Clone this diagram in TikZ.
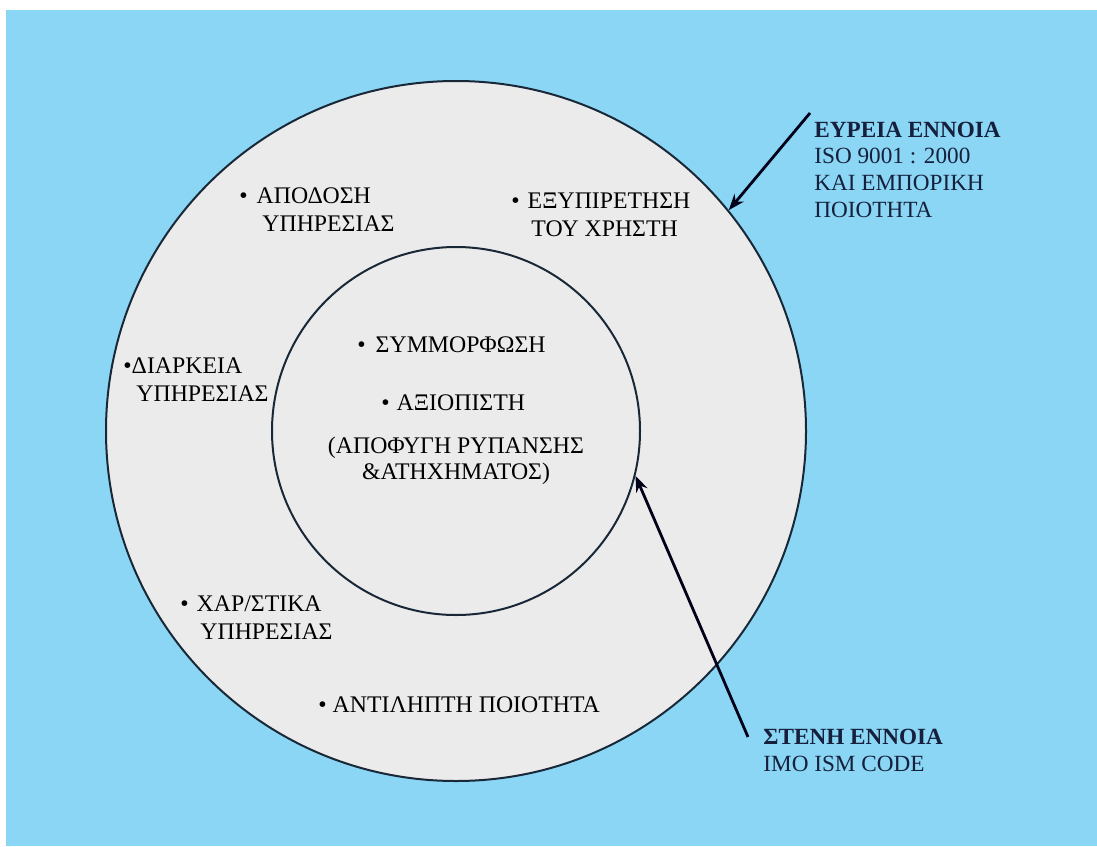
\documentclass[tikz,border=0pt]{standalone}
\usepackage{fontspec}
\setmainfont{Liberation Serif}
\usetikzlibrary{arrows.meta}
\definecolor{skyblue}{RGB}{138,214,244}
\definecolor{discgray}{RGB}{235,235,235}
\definecolor{rimline}{RGB}{25,40,55}
\definecolor{navytext}{RGB}{22,32,60}
\tikzset{
  disc/.style={circle, draw=rimline, line width=1pt, inner sep=0pt},
  lbl/.style={anchor=base west, inner sep=0pt, align=left, font=\fontsize{11.9}{14}\selectfont},
  ctr/.style={anchor=base, inner sep=0pt, align=center, font=\fontsize{11.9}{12.6}\selectfont},
  side/.style={anchor=base west, inner sep=0pt, align=left, text=navytext, font=\fontsize{11.6}{13.3}\selectfont},
  arr/.style={draw=black!90!blue, line width=1.4pt, -{Stealth[length=8pt,width=6pt]}}
}
\begin{document}
\begin{tikzpicture}[x=0.5pt,y=-0.5pt]
\useasboundingbox (0,0) rectangle (1097,846);
\fill[white] (0,0) rectangle (1097,846);
\fill[skyblue] (6,10) rectangle (1097,846);
\node[disc, fill=discgray, minimum size=350pt] (outer) at (456,431) {};
\node[disc, minimum size=184pt] (inner) at (456,431) {};
% outer ring items (anchor = baseline of last line)
\node[lbl] (apodosi) at (239,231) {•\hspace{4.5pt}ΑΠΟΔΟΣΗ\\\hspace{11.5pt}ΥΠΗΡΕΣΙΑΣ};
\node[lbl] (exyp) at (511,236) {•\hspace{4pt}ΕΞΥΠΙΡΕΤΗΣΗ\\\hspace{10pt}ΤΟΥ ΧΡΗΣΤΗ};
\node[lbl] (diark) at (123,401) {•ΔΙΑΡΚΕΙΑ\\\hspace{6.5pt}ΥΠΗΡΕΣΙΑΣ};
\node[lbl] (xar) at (180,639) {•\hspace{4pt}ΧΑΡ/ΣΤΙΚΑ\\\hspace{10pt}ΥΠΗΡΕΣΙΑΣ};
\node[lbl] (antil) at (318,712) {•\hspace{3pt}ΑΝΤΙΛΗΠΤΗ ΠΟΙΟΤΗΤΑ};
% inner items
\node[lbl] (symm) at (357,352) {•\hspace{5pt}ΣΥΜΜΟΡΦΩΣΗ};
\node[lbl] (axiop) at (381,410) {•\hspace{3.5pt}ΑΞΙΟΠΙΣΤΗ};
\node[ctr] (apof) at (456,479) {(ΑΠΟΦΥΓΗ ΡΥΠΑΝΣΗΣ\\\&ΑΤΗΧΗΜΑΤΟΣ)};
% side labels
\node[side] (eureia) at (814,217) {\textbf{ΕΥΡΕΙΑ ΕΝΝΟΙΑ}\\ISO 9001 : 2000\\ΚΑΙ ΕΜΠΟΡΙΚΗ\\ΠΟΙΟΤΗΤΑ};
\node[side] (steni) at (763,771) {\textbf{ΣΤΕΝΗ ΕΝΝΟΙΑ}\\IMO ISM CODE};
\coordinate (a1) at (810,113);
\coordinate (a2) at (748,737);
\draw[arr] (a1) -- (outer.39);
\draw[arr] (a2) -- (inner.-14);
\end{tikzpicture}
\end{document}
